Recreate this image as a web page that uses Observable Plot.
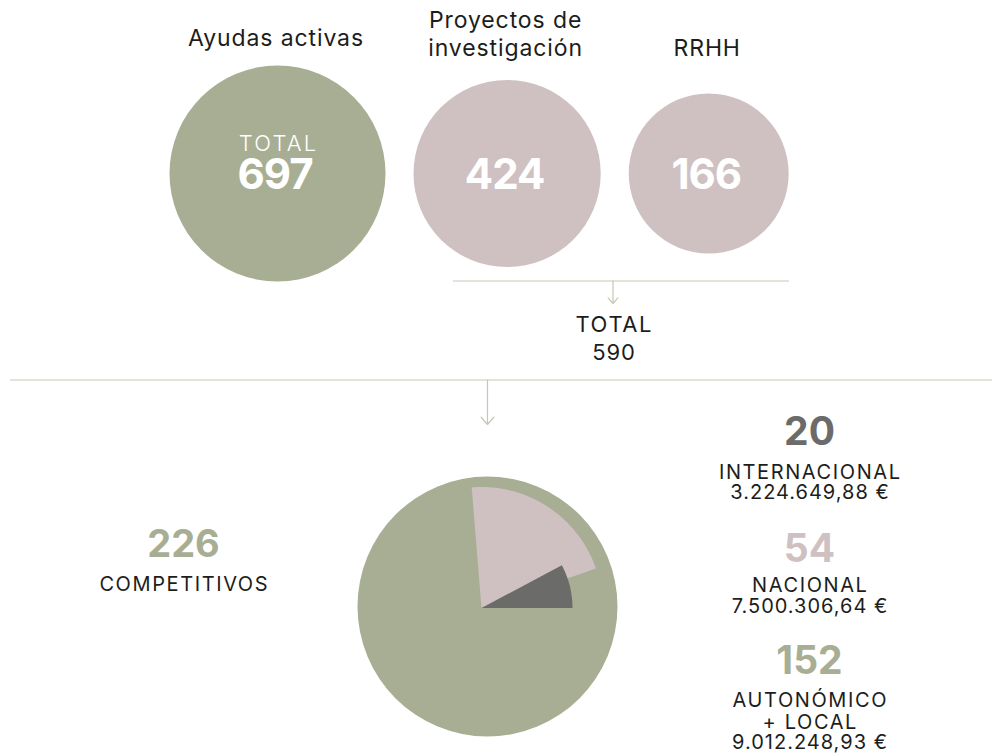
<!DOCTYPE html>
<html>
<head>
<meta charset="utf-8">
<script src="https://cdn.jsdelivr.net/npm/d3@7"></script>
<script src="https://cdn.jsdelivr.net/npm/@observablehq/plot@0.6"></script>
<style>
  html, body { margin: 0; padding: 0; background: #ffffff; }
  #chart svg { display: block; }
</style>
</head>
<body>
<div id="chart"></div>
<script>
// ---------- DATA ----------
const bubbleCategories = ["Ayudas activas", "Proyectos de\ninvestigación", "RRHH"];
const bubbleValues = [697, 424, 166];
const bubbleGroups = ["total", "parte", "parte"];
const bubbleInnerTitle = "TOTAL";

const competitiveLabel = "COMPETITIVOS";
const sectorKeys = ["internacional", "nacional", "autonomico"];
const sectorCategories = ["INTERNACIONAL", "NACIONAL", "AUTONÓMICO\n+ LOCAL"];
const sectorValues = [20, 54, 152];
const sectorAmounts = ["3.224.649,88 €", "7.500.306,64 €", "9.012.248,93 €"];

// ---------- STYLE / LAYOUT ----------
const W = 999, H = 756;
const C = {green: "#a8ae94", pink: "#cfc1c2", dark: "#6b6b69", line: "#c6c8b4", ink: "#1d1d1b", white: "#ffffff"};
const groupColor = {total: C.green, parte: C.pink, internacional: C.dark, nacional: C.pink, autonomico: C.green};
const spacing = {"top-labels": 0.9, "caps-wide": 1.6, "amounts": 1.0, "inner-title": 2.2,
                 "plain-number": 0.8, "bubble-number": -1.0};
const half = k => spacing[k] / 2;

const rowY = 173, firstX = 277, bubbleGap = 28;
const rDomain = d3.extent(bubbleValues), rRange = [80, 108];
const rScale = d3.scaleLinear().domain(rDomain).range(rRange);
const labelBaselines = [45.7, 55, 55];

let cursor = firstX - rScale(bubbleValues[0]);
const bubbles = bubbleValues.map((v, i) => {
  const r = rScale(v);
  const x = cursor + r;
  cursor = x + r + bubbleGap;
  return {label: bubbleCategories[i], value: v, group: bubbleGroups[i],
          color: groupColor[bubbleGroups[i]], x, y: rowY, labelY: labelBaselines[i]};
});
const totalBubble = bubbles.filter(d => d.group === "total");
const partSum = d3.sum(bubbles.filter(d => d.group === "parte"), d => d.value);

// annotation geometry
const bracket = {x1: 453, x2: 789, y: 280.5, arrowX: 612.5, arrowEnd: 303};
const divider = {x1: 10, x2: 992, y: 379.5, arrowX: 487, arrowEnd: 424};
const totalLabel = {x: 613, titleBaseline: 331, valueBaseline: 359};

// pie
const pieApex = {x: 481, y: 607.5};
const pieDisc = {x: 487, y: 606};
const pieDiscR = 130;
const angle = d3.scaleLinear().domain([0, 257]).range([0, 360]);
const sectorEnd = [90, 71];      // degrees clockwise from north
const sectorRadius = [91, 121];

function sectorPoints(i) {
  const end = sectorEnd[i], start = end - angle(sectorValues[i]);
  const R = sectorRadius[i];
  const pts = [{x: pieApex.x, y: pieApex.y}];
  const steps = Math.ceil((end - start) / 0.5);
  for (let s = 0; s <= steps; s++) {
    const a = (start + (end - start) * s / steps) * Math.PI / 180;
    pts.push({x: pieApex.x + R * Math.sin(a), y: pieApex.y - R * Math.cos(a)});
  }
  pts.push({x: pieApex.x, y: pieApex.y});
  return pts;
}

// right blocks
const smallFont = 20, smallStep = 21.5;
const blockX = 809;
const blockBaselines = [444.3, 561.7, 673.3];
const blockLabelBaselines = [477.3, 590.7, 705.7];
const blocks = sectorValues.map((v, i) => {
  const nLines = sectorCategories[i].split("\n").length;
  return {
    value: v, color: groupColor[sectorKeys[i]],
    category: sectorCategories[i], amount: sectorAmounts[i],
    x: blockX, y: blockBaselines[i],
    catTop: blockLabelBaselines[i] - 0.71 * smallFont,
    amountY: blockLabelBaselines[i] + nLines * smallStep
  };
});
const competitive = [{value: d3.sum(sectorValues), label: competitiveLabel, x: 183, y: 556.7, labelY: 590}];

// ---------- PLOT ----------
const plot = Plot.plot({
  width: W, height: H, margin: 0,
  x: {domain: [0, W], range: [0, W], axis: null},
  y: {domain: [0, H], range: [0, H], axis: null},
  r: {type: "linear", domain: rDomain, range: rRange},
  color: {type: "identity"},
  style: {fontFamily: "Inter, 'Noto Sans', sans-serif", background: "#ffffff", color: C.ink},
  marks: [
    // bubbles
    Plot.dot(bubbles, {x: "x", y: "y", r: "value", fill: "color", stroke: "none"}),
    Plot.text(bubbles, {x: d => d.x - 2, y: "labelY", text: "label", lineAnchor: "bottom", lineHeight: 1.19,
                        fontSize: 23, fill: C.ink, dx: half("top-labels"), ariaDescription: "top-labels"}),
    Plot.text(totalBubble, {x: "x", y: d => d.y - 30, text: () => bubbleInnerTitle, fontSize: 22,
                            fontWeight: 300, fill: C.white, dx: half("inner-title"), ariaDescription: "inner-title"}),
    Plot.text(bubbles, {x: d => d.x - 2, y: d => d.y + 2, text: d => String(d.value), fontSize: 42, fontWeight: 700,
                        fill: C.white, dx: half("bubble-number"), ariaDescription: "bubble-number"}),
    // bracket + arrow + total
    Plot.ruleY([bracket], {x1: "x1", x2: "x2", y: "y", stroke: C.line, strokeWidth: 1.2}),
    Plot.arrow([bracket], {x1: "arrowX", y1: "y", x2: "arrowX", y2: "arrowEnd", stroke: C.line,
                           strokeWidth: 1.2, headLength: 12, headAngle: 82}),
    Plot.text([totalLabel], {x: "x", y: "titleBaseline", text: () => bubbleInnerTitle,
                             lineAnchor: "bottom", fontSize: 22, fill: C.ink, dx: half("caps-wide"), ariaDescription: "caps-wide"}),
    Plot.text([totalLabel], {x: "x", y: "valueBaseline", text: () => String(partSum),
                             lineAnchor: "bottom", fontSize: 22, fill: C.ink, dx: half("plain-number"), ariaDescription: "plain-number"}),
    // divider + arrow
    Plot.ruleY([divider], {x1: "x1", x2: "x2", y: "y", stroke: C.line, strokeWidth: 1.2}),
    Plot.arrow([divider], {x1: "arrowX", y1: "y", x2: "arrowX", y2: "arrowEnd", stroke: C.line,
                           strokeWidth: 1.2, headLength: 12, headAngle: 82}),
    // pie
    Plot.dot([pieDisc], {x: "x", y: "y", r: pieDiscR, fill: groupColor.autonomico, stroke: "none"}),
    Plot.line(sectorPoints(1), {x: "x", y: "y", fill: groupColor.nacional, stroke: "none", curve: "linear"}),
    Plot.line(sectorPoints(0), {x: "x", y: "y", fill: groupColor.internacional, stroke: "none", curve: "linear"}),
    // competitive total
    Plot.text(competitive, {x: "x", y: "y", text: d => String(d.value), lineAnchor: "bottom",
                            fontSize: 38, fontWeight: 700, fill: C.green}),
    Plot.text(competitive, {x: "x", y: "labelY", text: "label", lineAnchor: "bottom", fontSize: smallFont,
                            fill: C.ink, dx: half("caps-wide"), ariaDescription: "caps-wide"}),
    // right blocks
    Plot.text(blocks, {x: "x", y: "y", text: d => String(d.value), lineAnchor: "bottom", fontSize: 39,
                       fontWeight: 700, fill: "color"}),
    Plot.text(blocks, {x: "x", y: "catTop", text: "category", lineAnchor: "top", lineHeight: smallStep / smallFont,
                       fontSize: smallFont, fill: C.ink, dx: half("caps-wide"), ariaDescription: "caps-wide"}),
    Plot.text(blocks, {x: "x", y: "amountY", text: "amount", lineAnchor: "bottom",
                       fontSize: smallFont, fill: C.ink, dx: half("amounts"), ariaDescription: "amounts"})
  ]
});
// apply letter spacing to the text groups tagged above
d3.select(plot).selectAll("g[aria-description]").each(function() {
  const key = this.getAttribute("aria-description");
  if (key in spacing) d3.select(this).selectAll("text").style("letter-spacing", spacing[key] + "px");
});
document.getElementById("chart").appendChild(plot);
</script>
</body>
</html>
